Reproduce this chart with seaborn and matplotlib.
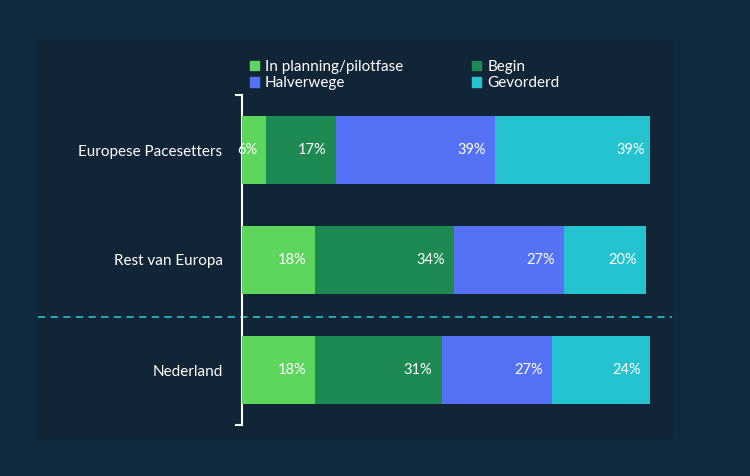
import matplotlib
matplotlib.use("Agg")
import matplotlib.pyplot as plt
import seaborn as sns
import pandas as pd
import numpy as np
from matplotlib.patches import Patch, Rectangle

categories = ["Europese Pacesetters", "Rest van Europa", "Nederland"]
series = ["In planning/pilotfase", "Begin", "Halverwege", "Gevorderd"]
planning = [6, 18, 18]
begin = [17, 34, 31]
halverwege = [39, 27, 27]
gevorderd = [39, 20, 24]
colors = ["#5cd65c", "#1c8a52", "#5572f7", "#25c3cf"]

plt.rcParams["font.family"] = "Lato"
W, H = 750, 476
fig = plt.figure(figsize=(W/100, H/100), dpi=100)
fig.patch.set_facecolor("#0e2a3c")
fig.add_artist(Rectangle((38/W, 1-438/H), (672-38)/W, (438-40)/H,
                         transform=fig.transFigure, color="#112537", zorder=0))
ax = fig.add_axes([242/W, 1-425/H, 408/W, 330/H])
ax.set_facecolor("none")

vals = np.array([planning, begin, halverwege, gevorderd], dtype=float)
cum = np.cumsum(vals, axis=0)
for i in range(3, -1, -1):
    df = pd.DataFrame({"cat": categories, "v": cum[i]})
    sns.barplot(data=df, x="v", y="cat", orient="h", color=colors[i],
                saturation=1, width=0.62, ax=ax, zorder=2 + (3 - i))
for i in range(4):
    for j in range(3):
        ax.text(cum[i][j] - 2.3, j, f"{int(vals[i][j])}%", color="white",
                ha="right", va="center", fontsize=10.5, zorder=10)

ax.set_xlim(0, 100)
ax.set_ylim(2.5, -0.5)
ax.set_xlabel(""); ax.set_ylabel("")
ax.set_xticks([])
ax.tick_params(axis="y", length=0, pad=14, labelcolor="white", labelsize=11)
for s in ["top", "right", "bottom"]:
    ax.spines[s].set_visible(False)
ax.spines["left"].set_color("white")
ax.spines["left"].set_linewidth(1.5)
ax.plot([0, -1.5], [-0.5, -0.5], color="white", lw=1.5, clip_on=False)
ax.plot([0, -1.5], [2.5, 2.5], color="white", lw=1.5, clip_on=False)
ax.plot([-50, 105.4], [1.52, 1.52], color="#25b5c0", lw=1.3, ls=(0, (4, 3)),
        clip_on=False, zorder=1)

order = [0, 2, 1, 3]
handles = [Patch(color=colors[k], label=series[k]) for k in order]
leg = fig.legend(handles=handles, ncol=2, loc="upper left",
                 bbox_to_anchor=(236/W, 1-46/H), frameon=False, fontsize=11,
                 handlelength=0.6, handleheight=0.6, handletextpad=0.4,
                 columnspacing=4.5, labelspacing=0.15, labelcolor="white")
fig.savefig("out.png", dpi=100, facecolor=fig.get_facecolor())
